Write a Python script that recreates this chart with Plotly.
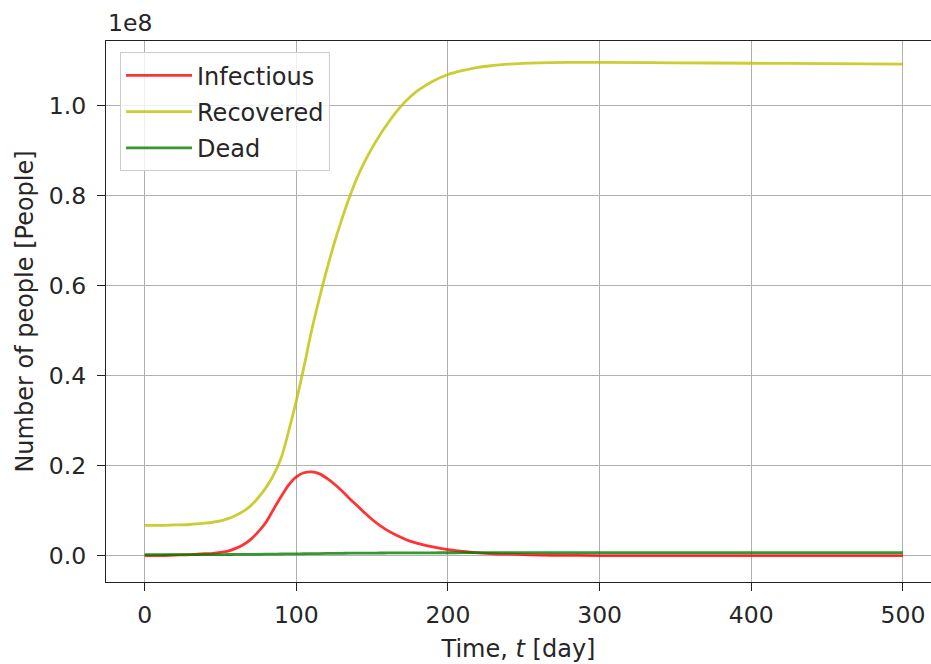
import plotly.graph_objects as go

# Time points [day]
t_days = [0, 10, 20, 30, 40, 45, 50, 55, 60, 65, 70, 75, 80, 85, 90, 95, 100, 105,
          110, 115, 120, 125, 130, 135, 140, 145, 150, 155, 160, 165, 170, 175, 180,
          190, 200, 210, 220, 230, 240, 260, 280, 300, 350, 400, 450, 500]
# Values in units of 1e8 people
infectious = [0.001, 0.001, 0.002, 0.003, 0.005, 0.006, 0.008, 0.011, 0.017, 0.025,
              0.037, 0.054, 0.075, 0.104, 0.132, 0.158, 0.176, 0.185, 0.187, 0.183,
              0.173, 0.160, 0.145, 0.128, 0.112, 0.096, 0.081, 0.068, 0.057, 0.048,
              0.040, 0.033, 0.028, 0.020, 0.014, 0.010, 0.007, 0.005, 0.004, 0.002,
              0.0015, 0.001, 0.001, 0.001, 0.001, 0.001]
recovered = [0.068, 0.068, 0.069, 0.070, 0.073, 0.075, 0.078, 0.083, 0.090, 0.099,
             0.112, 0.130, 0.152, 0.180, 0.218, 0.278, 0.345, 0.420, 0.500, 0.570,
             0.635, 0.695, 0.748, 0.797, 0.840, 0.876, 0.907, 0.935, 0.960, 0.983,
             1.003, 1.020, 1.034, 1.055, 1.070, 1.079, 1.086, 1.090, 1.093, 1.096,
             1.097, 1.097, 1.096, 1.095, 1.094, 1.093]
dead = [0.003, 0.003, 0.003, 0.003, 0.003, 0.0031, 0.0032, 0.0033, 0.0034, 0.0035,
        0.0036, 0.0038, 0.004, 0.0042, 0.0044, 0.0046, 0.0048, 0.005, 0.0052, 0.0054,
        0.0056, 0.0058, 0.006, 0.0062, 0.0063, 0.0064, 0.0065, 0.0066, 0.0067, 0.0068,
        0.0069, 0.007, 0.007, 0.0071, 0.0072, 0.0073, 0.0074, 0.0074, 0.0075, 0.0075,
        0.0075, 0.0075, 0.0075, 0.0075, 0.0075, 0.0075]

SCALE = 1e8
series = [
    ("Infectious", infectious, "rgba(255,0,0,0.8)"),
    ("Recovered", recovered, "rgba(191,191,0,0.8)"),
    ("Dead", dead, "rgba(0,128,0,0.8)"),
]

FS = 24
FT = 23.5
TXT = "#262626"

fig = go.Figure()
for name, vals, col in series:
    fig.add_trace(go.Scatter(
        x=t_days, y=[v * SCALE for v in vals], mode="lines", name=name,
        legendgroup=name,
        line=dict(color=col, width=2.8, shape="spline", smoothing=1.0),
    ))

fig.update_layout(
    width=931, height=664,
    margin=dict(l=106, r=0, t=41, b=82),
    paper_bgcolor="white", plot_bgcolor="white",
    font=dict(family="DejaVu Sans", size=FT, color=TXT),
    showlegend=True,
    legend=dict(
        x=0.017, y=0.979, xanchor="left", yanchor="top",
        bgcolor="rgba(255,255,255,0.8)", bordercolor="#cccccc", borderwidth=1,
        font=dict(family="DejaVu Sans", size=FS, color=TXT),
        tracegroupgap=2, itemwidth=66,
    ),
    xaxis=dict(
        range=[-25.5, 518.5], tickvals=[0, 100, 200, 300, 400, 500],
        ticktext=["0", "100", "200", "300", "400", "500"],
        tickfont=dict(family="DejaVu Sans", size=FT, color=TXT),
        showgrid=True, gridcolor="#b0b0b0", gridwidth=1,
        showline=True, linecolor="#222", linewidth=1.3, mirror=True,
        ticks="outside", ticklen=8, tickcolor="#222", tickwidth=1.3,
        ticklabelstandoff=4,
        zeroline=False,
        title=dict(text="Time, <i>t</i> [day]", standoff=11,
                   font=dict(family="DejaVu Sans", size=FS, color=TXT)),
    ),
    yaxis=dict(
        range=[-0.0578 * SCALE, 1.1444 * SCALE],
        tickvals=[v * SCALE for v in [0, 0.2, 0.4, 0.6, 0.8, 1.0]],
        ticktext=["0.0", "0.2", "0.4", "0.6", "0.8", "1.0"],
        tickfont=dict(family="DejaVu Sans", size=FT, color=TXT),
        showgrid=True, gridcolor="#b0b0b0", gridwidth=1,
        showline=True, linecolor="#222", linewidth=1.3, mirror=False,
        ticks="outside", ticklen=8, tickcolor="#222", tickwidth=1.3,
        ticklabelstandoff=6,
        zeroline=False,
        title=dict(text="Number of people [People]", standoff=8,
                   font=dict(family="DejaVu Sans", size=FS, color=TXT)),
    ),
    annotations=[dict(
        text="1e8", xref="paper", yref="paper", x=0, y=1, xanchor="left",
        yanchor="bottom", yshift=2, showarrow=False,
        font=dict(family="DejaVu Sans", size=FT, color=TXT),
    )],
)

fig.write_html("out.html")
